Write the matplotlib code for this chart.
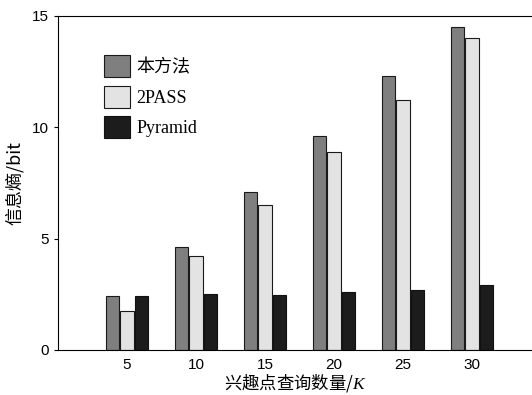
import numpy as np
import matplotlib.pyplot as plt

plt.rcParams['font.family'] = ['Liberation Sans', 'Noto Sans CJK SC']
plt.rcParams['mathtext.fontset'] = 'custom'
plt.rcParams['mathtext.it'] = 'Liberation Serif:italic'

k = [5, 10, 15, 20, 25, 30]
ours = [2.42, 4.6, 7.1, 9.62, 12.3, 14.5]
twopass = [1.77, 4.22, 6.5, 8.9, 11.2, 14.0]
pyramid = [2.42, 2.51, 2.48, 2.62, 2.71, 2.9]
names = ['本方法', '2PASS', 'Pyramid']

fig = plt.figure(figsize=(5.32, 3.95), dpi=100)
ax = fig.add_axes([0.109, 0.114, 0.891, 0.846])

x = np.array(k)
w = 1.0
ax.bar(x - 1.05, ours, w, color='#7f7f7f', edgecolor='#1a1a1a', linewidth=0.8, label=names[0])
ax.bar(x, twopass, w, color='#e3e3e3', edgecolor='#1a1a1a', linewidth=0.8, label=names[1])
ax.bar(x + 1.05, pyramid, w, color='#1c1c1c', edgecolor='#111111', linewidth=0.8, label=names[2])

ax.set_xlim(0, 34.35)
ax.set_ylim(0, 15)
ax.set_xticks(k)
ax.set_yticks([0, 5, 10, 15])
ax.tick_params(axis='x', length=0, labelsize=11, pad=6)
ax.tick_params(axis='y', direction='out', length=3, labelsize=11)
ax.spines['right'].set_visible(False)

ax.set_ylabel('信息熵/bit', fontsize=13, labelpad=6, fontfamily='Noto Sans CJK SC')
ax.set_xlabel('兴趣点查询数量/$K$', fontsize=12.5, labelpad=0, fontfamily='Noto Sans CJK SC')

ax.legend(loc='upper left', bbox_to_anchor=(0.062, 0.93), frameon=False,
          handlelength=1.45, handleheight=1.5, labelspacing=0.45, handletextpad=0.35,
          prop={'family': ['Liberation Serif', 'Noto Sans CJK SC'], 'size': 13})

fig.savefig('out.png', dpi=100)
